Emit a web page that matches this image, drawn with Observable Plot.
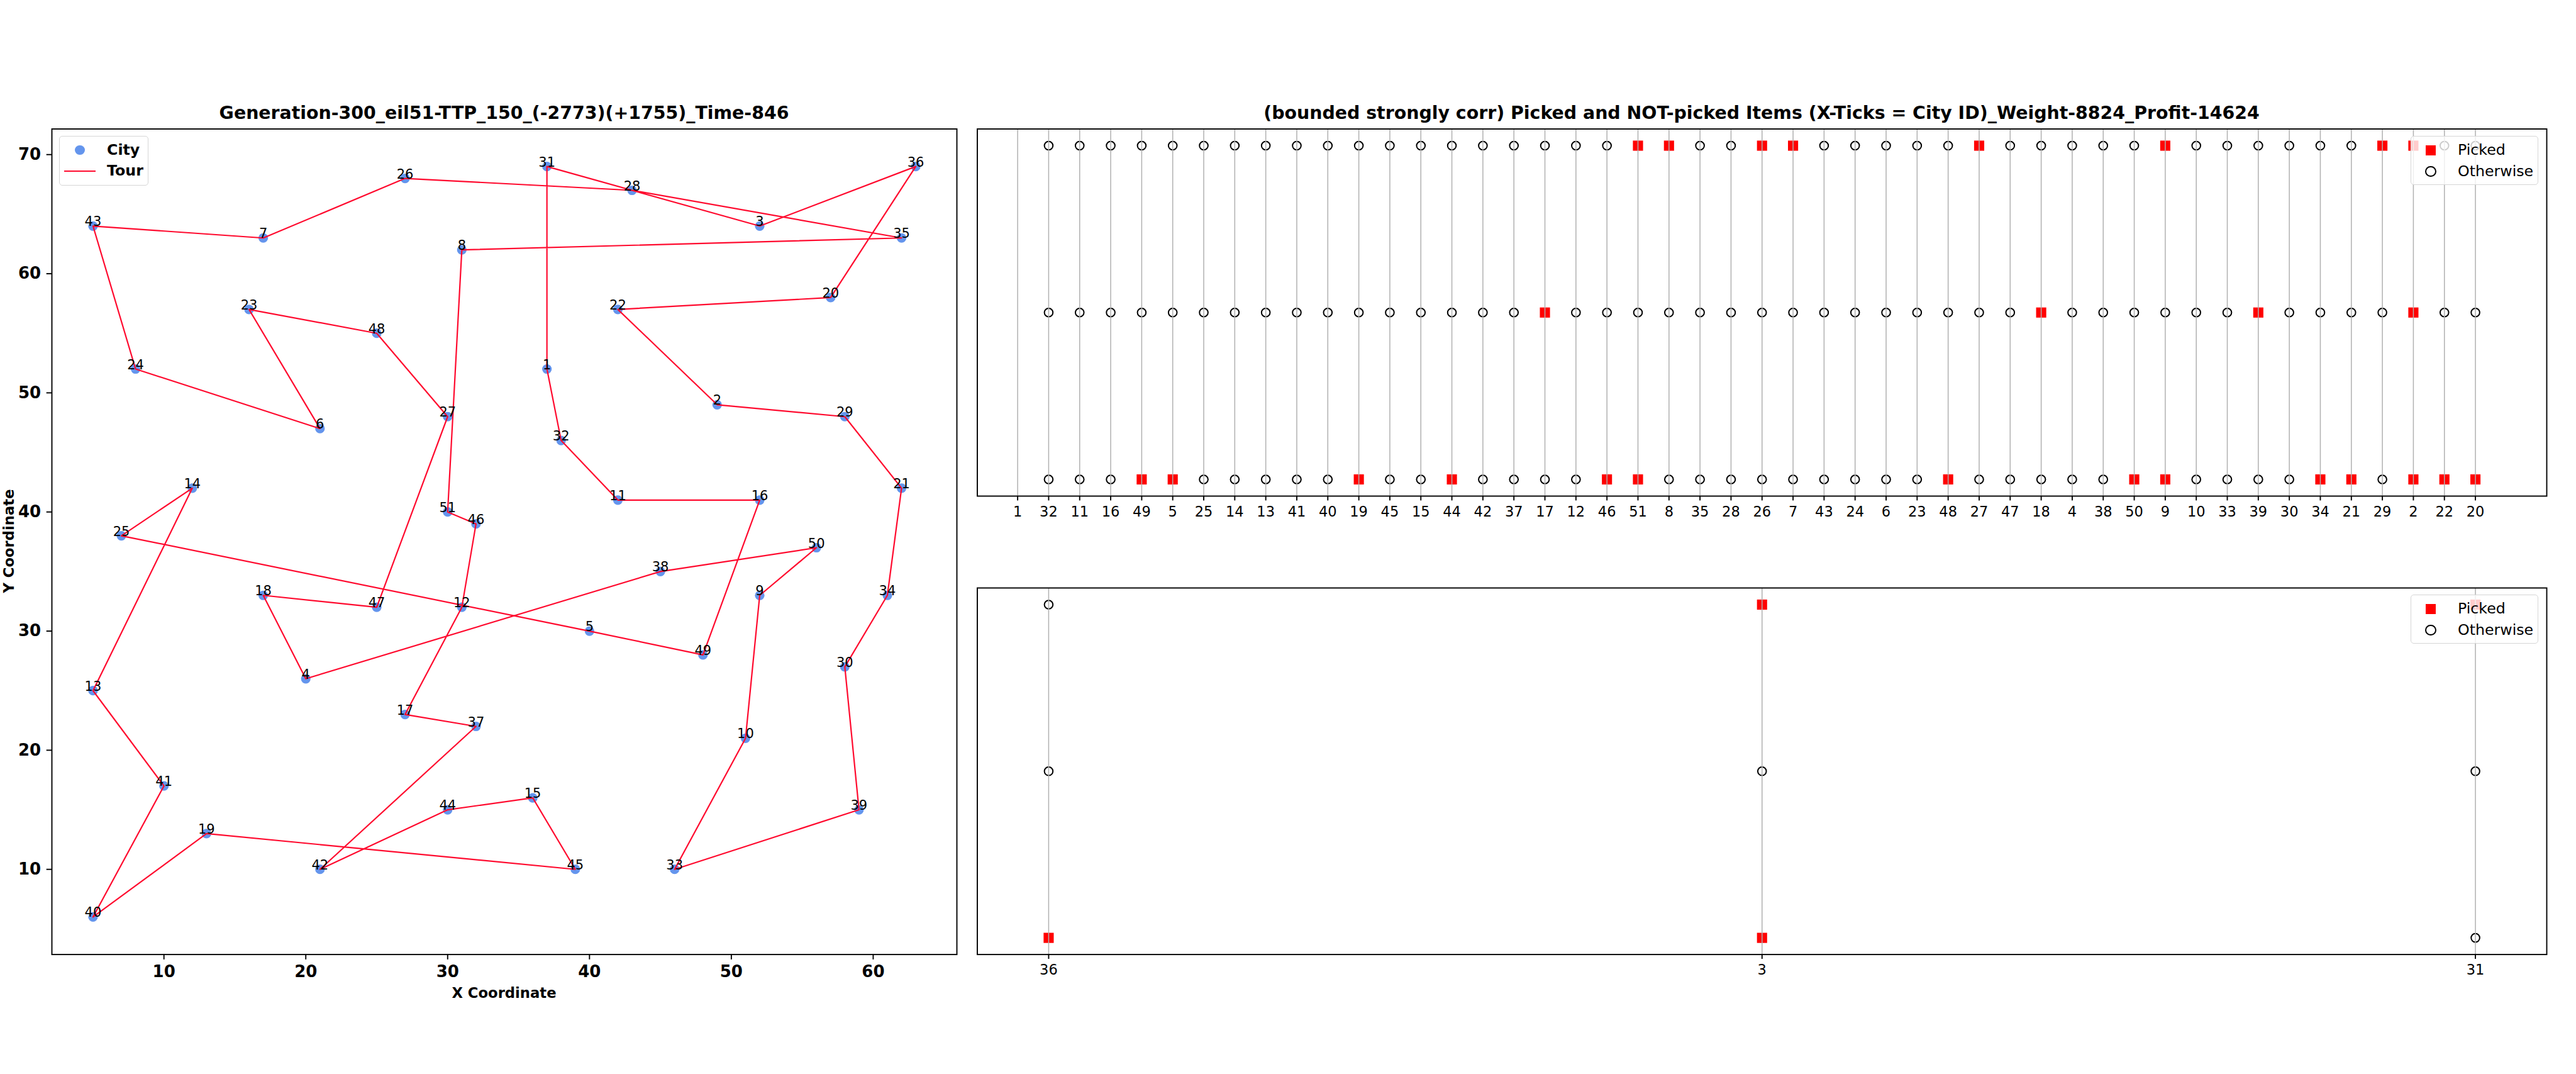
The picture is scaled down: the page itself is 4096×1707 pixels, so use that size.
<!DOCTYPE html>
<html><head><meta charset="utf-8">
<script src="https://cdn.jsdelivr.net/npm/d3@7"></script>
<script src="https://cdn.jsdelivr.net/npm/@observablehq/plot@0.6"></script>
<style>
html,body{margin:0;padding:0;background:#fff;}
#root{position:relative;width:4096px;height:1707px;overflow:hidden;font-family:"DejaVu Sans",sans-serif;color:#000;background:#fff;}
#root svg{position:absolute;}
.t{position:absolute;white-space:nowrap;line-height:1;}
.title{font-weight:bold;font-size:28.4px;transform:translateX(-50%);}
.axlabel{font-weight:bold;font-size:22.7px;}
.legend{position:absolute;box-sizing:border-box;border:1.6px solid #d6d6d6;border-radius:5px;background:rgba(255,255,255,0.8);}
.lt{position:absolute;white-space:nowrap;line-height:1;font-size:23.7px;transform:translateY(-50%);}
</style></head>
<body><div id="root"></div>
<script>
// ---- data ----
const cityIds = d3.range(1, 52);
const cityX = [37,49,52,20,40,21,17,31,52,51,42,31,5,12,36,52,27,17,13,57,62,42,16,8,7,27,30,43,58,58,37,38,46,61,62,63,32,45,59,5,10,21,5,30,39,32,25,25,48,56,30];
const cityY = [52,49,64,26,30,47,63,62,33,21,41,32,25,42,16,41,23,33,13,58,42,57,57,52,38,68,48,67,48,27,69,46,10,33,63,69,22,35,15,6,17,10,64,15,10,39,32,55,28,37,40];
const tourOrder = [1,32,11,16,49,5,25,14,13,41,40,19,45,15,44,42,37,17,12,46,51,8,35,28,26,7,43,24,6,23,48,27,47,18,4,38,50,9,10,33,39,30,34,21,29,2,22,20,36,3,31];
// picked items per item row (row 2 = top, row 1 = middle, row 0 = bottom), by city ID
const pickedRow2 = [51,8,26,7,27,9,29,2,3,31];
const pickedRow1 = [17,18,39,2];
const pickedRow0 = [49,5,19,44,46,51,48,50,9,34,21,2,22,20,36,3];
const xTicksLeft = [10,20,30,40,50,60];
const yTicksLeft = [10,20,30,40,50,60,70];
const titleLeft = "Generation-300_eil51-TTP_150_(-2773)(+1755)_Time-846";
const titleRight = "(bounded strongly corr) Picked and NOT-picked Items (X-Ticks = City ID)_Weight-8824_Profit-14624";

// ---- build ----
const root = document.getElementById("root");
function put(el, left, top) { el.style.left = left + "px"; el.style.top = top + "px"; root.appendChild(el); return el; }
function txt(cls, s, left, top) { const d = document.createElement("div"); d.className = cls; d.textContent = s; return put(d, left, top); }

const cities = cityIds.map((id, i) => ({id, x: cityX[i], y: cityY[i]}));
const byId = new Map(cities.map(c => [c.id, c]));
const tourPath = [...tourOrder, tourOrder[0]].map(id => byId.get(id));

const leftPlot = Plot.plot({
  width: 1545, height: 1707,
  marginLeft: 82, marginRight: 24, marginTop: 204.5, marginBottom: 190.4,
  style: {fontFamily: "DejaVu Sans", fontSize: "26px", color: "black", background: "transparent", overflow: "visible"},
  x: {domain: [2.1, 65.9]},
  y: {domain: [2.85, 72.15]},
  marks: [
    Plot.axisX(xTicksLeft, {tickSize: 8.3, tickPadding: 9, fontSize: 26, fontWeight: "bold", label: null, strokeWidth: 1.9}),
    Plot.axisY(yTicksLeft, {tickSize: 8.3, tickPadding: 9, fontSize: 26, fontWeight: "bold", label: null, strokeWidth: 1.9}),
    Plot.dot(cities, {x: "x", y: "y", r: 7.6, fill: "#6495ED"}),
    Plot.line(tourPath, {x: "x", y: "y", stroke: "#ff0a2e", strokeWidth: 2.2}),
    Plot.text(cities, {x: "x", y: "y", text: "id", lineAnchor: "bottom", fontSize: 21, fill: "black"}),
    Plot.frame({stroke: "black", strokeWidth: 1.9})
  ]
});
put(leftPlot, 0, 0);

function itemsFor(list) {
  const out = [];
  list.forEach((id, i) => {
    if (id === tourOrder[0]) return;
    [[0, pickedRow0], [1, pickedRow1], [2, pickedRow2]].forEach(([row, arr]) => out.push({i, row, picked: arr.includes(id)}));
  });
  return out;
}

function itemPlot(list, opts) {
  const idx = d3.range(list.length);
  const items = itemsFor(list);
  return Plot.plot({
    width: 2551, height: opts.height,
    marginLeft: 8.5, marginRight: 47, marginTop: opts.mt, marginBottom: opts.mb,
    style: {fontFamily: "DejaVu Sans", fontSize: "22.5px", color: "black", background: "transparent", overflow: "visible"},
    x: {domain: opts.xdom},
    y: {domain: [-0.1, 2.1], axis: null},
    marks: [
      Plot.dot(items.filter(d => !d.picked), {x: "i", y: "row", r: 6.8, stroke: "black", strokeWidth: 2, fill: "none"}),
      Plot.dot(items.filter(d => d.picked), {x: "i", y: "row", r: 9.1, symbol: "square", fill: "red"}),
      Plot.ruleX(idx, {stroke: "#b0b0b0", strokeWidth: 1.5}),
      Plot.axisX(idx, {tickFormat: i => list[i], tickSize: 7.4, tickPadding: 9, fontSize: 22.5, label: null, strokeWidth: 1.9}),
      Plot.frame({stroke: "black", strokeWidth: 1.9})
    ]
  });
}

const topList = tourOrder.slice(0, 48);
const botList = tourOrder.slice(48);
put(itemPlot(topList, {height: 860, mt: 204.5, mb: 72, xdom: [-1.3, 49.3]}), 1545, 0);
put(itemPlot(botList, {height: 847, mt: 74, mb: 190.4, xdom: [-0.1, 2.1]}), 1545, 860);

// titles and axis labels
txt("t title", titleLeft, 801.5, 166.4);
txt("t title", titleRight, 2801, 166.4);
const xl = txt("t axlabel", "X Coordinate", 801.5, 1567);
xl.style.transform = "translateX(-50%)";
const yl = txt("t axlabel", "Y Coordinate", 14, 860);
yl.style.transform = "translate(-50%,-50%) rotate(-90deg)";

// legends
function legendBox(left, top, w, h) {
  const d = document.createElement("div"); d.className = "legend";
  d.style.width = w + "px"; d.style.height = h + "px";
  return put(d, left, top);
}
function shape(css, left, top) { const d = document.createElement("div"); d.style.position = "absolute"; Object.assign(d.style, css); return put(d, left, top); }

// left legend
legendBox(94, 216, 142, 79);
shape({width: "15.2px", height: "15.2px", borderRadius: "50%", background: "#6495ED"}, 127 - 7.6, 238.6 - 7.6);
const lc = txt("lt", "City", 170, 238.6); lc.style.fontWeight = "bold";
shape({width: "50px", height: "2.2px", background: "#ff0a2e"}, 102, 272 - 1.1);
const lt2 = txt("lt", "Tour", 170, 272); lt2.style.fontWeight = "bold";

// right legends
function itemLegend(top) {
  legendBox(3833, top, 203, 78);
  shape({width: "16.2px", height: "16.2px", background: "red"}, 3865 - 8.1, top + 22.6 - 8.1);
  txt("lt", "Picked", 3908, top + 22.6);
  shape({width: "13.6px", height: "13.6px", borderRadius: "50%", border: "2px solid black", boxSizing: "content-box"}, 3865 - 8.8, top + 56.6 - 8.8);
  txt("lt", "Otherwise", 3908, top + 56.6);
}
itemLegend(216);
itemLegend(945);
</script>
</body></html>
